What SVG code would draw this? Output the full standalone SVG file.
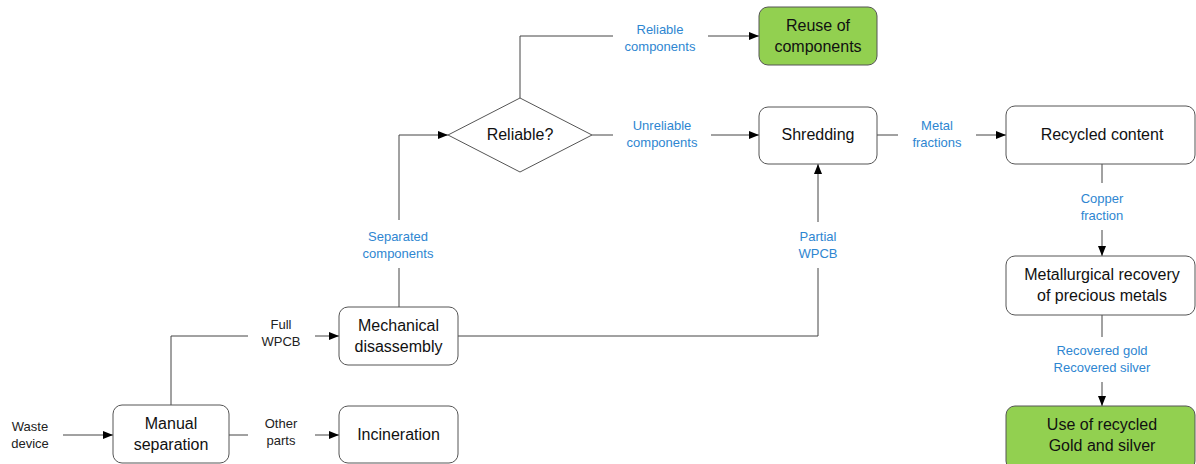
<svg xmlns="http://www.w3.org/2000/svg" width="1196" height="464" viewBox="0 0 1196 464">
<defs>
<marker id="arr" viewBox="0 0 10 10" refX="10" refY="5" markerWidth="10" markerHeight="10" markerUnits="userSpaceOnUse" orient="auto">
<path d="M0,1 L10,5 L0,9 Z" fill="#000"/>
</marker>
<style>
.box{fill:#fff;stroke:#555;stroke-width:1}
.green{fill:#92D050;stroke:#555;stroke-width:1}
.nt{font-family:"Liberation Sans",Arial,sans-serif;font-size:16px;fill:#111;text-anchor:middle}
.lb{font-family:"Liberation Sans",Arial,sans-serif;font-size:13px;fill:#2E86D1;text-anchor:middle}
.bt{font-family:"Liberation Sans",Arial,sans-serif;font-size:13px;fill:#222;text-anchor:middle}
.ln{fill:none;stroke:#444;stroke-width:1}
.la{fill:none;stroke:#444;stroke-width:1;marker-end:url(#arr)}
</style>
</defs>
<rect width="1196" height="464" fill="#fff"/>
<g id="connectors">
<line class="la" x1="63" y1="435" x2="113" y2="435"/>
<line class="ln" x1="229" y1="435" x2="248" y2="435"/>
<line class="la" x1="315" y1="435" x2="339" y2="435"/>
<polyline class="ln" points="171,405 171,336 248,336"/>
<line class="la" x1="315" y1="336" x2="339" y2="336"/>
<line class="ln" x1="399" y1="307" x2="399" y2="268"/>
<polyline class="la" points="399,220 399,135 448,135"/>
<polyline class="ln" points="520,98 520,36 613,36"/>
<line class="la" x1="708" y1="36" x2="759" y2="36"/>
<line class="ln" x1="592" y1="135" x2="613" y2="135"/>
<line class="la" x1="711" y1="135" x2="759" y2="135"/>
<polyline class="ln" points="458,336 818,336 818,268"/>
<line class="la" x1="818" y1="222" x2="818" y2="164"/>
<line class="ln" x1="877" y1="135" x2="898" y2="135"/>
<line class="la" x1="976" y1="135" x2="1006" y2="135"/>
<line class="ln" x1="1102" y1="164" x2="1102" y2="183"/>
<line class="la" x1="1102" y1="230" x2="1102" y2="256"/>
<line class="ln" x1="1102" y1="315" x2="1102" y2="337"/>
<line class="la" x1="1102" y1="382" x2="1102" y2="406"/>
<text class="bt" x="30" y="431">Waste</text>
<text class="bt" x="30" y="448">device</text>
<text class="bt" x="281" y="329">Full</text>
<text class="bt" x="281" y="346">WPCB</text>
<text class="bt" x="281" y="428">Other</text>
<text class="bt" x="281" y="445">parts</text>
<text class="lb" x="398" y="241">Separated</text>
<text class="lb" x="398" y="258">components</text>
<text class="lb" x="660" y="34">Reliable</text>
<text class="lb" x="660" y="51">components</text>
<text class="lb" x="662" y="130">Unreliable</text>
<text class="lb" x="662" y="147">components</text>
<text class="lb" x="818" y="241">Partial</text>
<text class="lb" x="818" y="258">WPCB</text>
<text class="lb" x="937" y="130">Metal</text>
<text class="lb" x="937" y="147">fractions</text>
<text class="lb" x="1102" y="203">Copper</text>
<text class="lb" x="1102" y="220">fraction</text>
<text class="lb" x="1102" y="355">Recovered gold</text>
<text class="lb" x="1102" y="372">Recovered silver</text>
</g>
<g id="manual">
<rect class="box" x="113" y="405" width="116" height="58" rx="9"/>
<text class="nt" x="171" y="429">Manual</text>
<text class="nt" x="171" y="450">separation</text>
</g>
<g id="mechanical">
<rect class="box" x="339" y="307" width="119" height="58" rx="9"/>
<text class="nt" x="398.5" y="331">Mechanical</text>
<text class="nt" x="398.5" y="352">disassembly</text>
</g>
<g id="incineration">
<rect class="box" x="339" y="406" width="119" height="57" rx="9"/>
<text class="nt" x="398.5" y="440">Incineration</text>
</g>
<g id="reliable">
<polygon class="box" points="448,135 520,98 592,135 520,172"/>
<text class="nt" x="520" y="140">Reliable?</text>
</g>
<g id="reuse">
<rect class="green" x="759" y="7" width="118" height="58" rx="9"/>
<text class="nt" x="818" y="31">Reuse of</text>
<text class="nt" x="818" y="52">components</text>
</g>
<g id="shredding">
<rect class="box" x="759" y="107" width="118" height="57" rx="9"/>
<text class="nt" x="818" y="140">Shredding</text>
</g>
<g id="recycled">
<rect class="box" x="1006" y="106" width="189" height="58" rx="9"/>
<text class="nt" x="1102" y="140">Recycled content</text>
</g>
<g id="metallurgical">
<rect class="box" x="1006" y="256" width="189" height="59" rx="9"/>
<text class="nt" x="1102" y="280">Metallurgical recovery</text>
<text class="nt" x="1102" y="301">of precious metals</text>
</g>
<g id="use">
<rect class="green" x="1006" y="406" width="189" height="64" rx="9"/>
<text class="nt" x="1102" y="430">Use of recycled</text>
<text class="nt" x="1102" y="451">Gold and silver</text>
</g>
</svg>
